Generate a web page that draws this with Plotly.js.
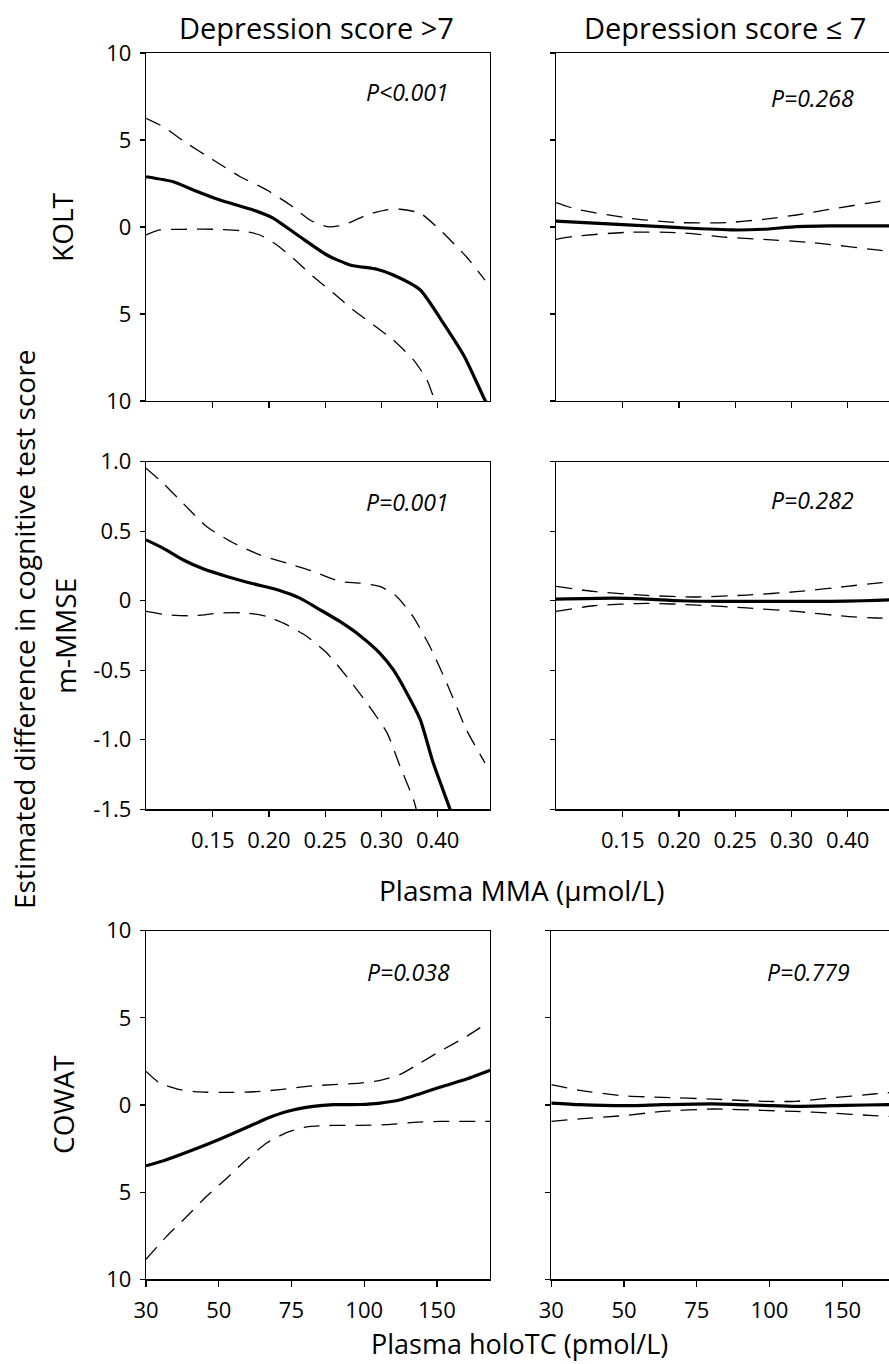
<!DOCTYPE html>
<html>
<head>
<meta charset="utf-8">
<script src="https://cdn.plot.ly/plotly-3.0.1.min.js"></script>
<style>
html,body{margin:0;padding:0;background:#fff;overflow:hidden;width:889px;height:1364px;}
#chart{width:900px;height:1364px;}
</style>
</head>
<body>
<div id="chart"></div>
<script>
// ---- tick labels (equally spaced scale positions) ----
const mmaTickVals = [1, 2, 3, 4, 5];
const mmaTickText = ['0.15', '0.20', '0.25', '0.30', '0.40'];
const holoTickVals = [0, 1, 2, 3, 4];
const holoTickText = ['30', '50', '75', '100', '150'];
const scoreTickVals = [10, 5, 0, -5, -10];
const scoreTickText = ['10', '5', '0', '5', '10'];
const mmseTickVals = [1.0, 0.5, 0, -0.5, -1.0, -1.5];
const mmseTickText = ['1.0', '0.5', '0', '-0.5', '-1.0', '-1.5'];

const colTitles = ['Depression score >7', 'Depression score \u2264 7'];
const rowTitles = ['KOLT', 'm-MMSE', 'COWAT'];
const pValues = ['P&lt;0.001', 'P=0.268', 'P=0.001', 'P=0.282', 'P=0.038', 'P=0.779'];

// ---- KOLT, depression > 7 (x in MMA scale positions) ----
const koltHiX = [-0.186, 0.30, 0.655, 1.13, 1.72, 2.08, 2.55, 3.03, 3.44, 3.92, 4.21, 4.69, 5.10, 5.49, 5.84, 5.95];
const koltHiEst = [2.89, 2.60, 2.13, 1.55, 0.98, 0.50, -0.56, -1.61, -2.18, -2.43, -2.76, -3.62, -5.53, -7.54, -9.94, -10.5];
const koltHiUpX = [-0.186, 0.12, 0.54, 1.01, 1.49, 1.96, 2.38, 2.73, 3.03, 3.32, 3.74, 4.09, 4.33, 4.69, 5.04, 5.51, 5.84];
const koltHiUp = [6.25, 5.76, 4.81, 3.85, 2.89, 2.13, 1.26, 0.40, 0.02, 0.11, 0.69, 0.98, 1.02, 0.79, -0.17, -1.71, -3.05];
const koltHiLoX = [-0.186, 0.06, 0.54, 1.01, 1.49, 1.84, 2.14, 2.43, 2.79, 3.15, 3.50, 3.86, 4.21, 4.57, 4.81, 4.95, 5.0];
const koltHiLo = [-0.46, -0.17, -0.13, -0.13, -0.21, -0.46, -1.03, -1.80, -2.86, -3.81, -4.77, -5.63, -6.49, -7.64, -8.79, -10.0, -10.4];

// ---- KOLT, depression <= 7 ----
const koltLoX = [-0.186, 0.83, 2.02, 2.97, 3.50, 4.09, 4.68, 5.73, 5.95];
const koltLoEst = [0.34, 0.17, -0.04, -0.17, -0.13, 0.02, 0.06, 0.06, 0.06];
const koltLoCIX = [-0.186, 0.18, 1.13, 2.02, 2.85, 3.50, 4.09, 4.69, 5.52, 5.95];
const koltLoUp = [1.40, 1.02, 0.50, 0.25, 0.25, 0.44, 0.69, 1.02, 1.45, 1.65];
const koltLoLoX = [-0.186, 0.18, 1.13, 2.02, 2.85, 3.50, 4.39, 5.52, 5.95];
const koltLoLo = [-0.71, -0.52, -0.30, -0.33, -0.59, -0.71, -0.90, -1.32, -1.45];

// ---- m-MMSE, depression > 7 ----
const mmseHiX = [-0.186, 0.115, 0.47, 0.83, 1.25, 1.72, 2.19, 2.55, 2.91, 3.26, 3.62, 3.97, 4.21, 4.45, 4.69, 4.92, 5.22, 5.26];
const mmseHiEst = [0.438, 0.379, 0.295, 0.230, 0.175, 0.122, 0.074, 0.019, -0.065, -0.149, -0.251, -0.376, -0.496, -0.663, -0.855, -1.166, -1.50, -1.55];
const mmseHiUpX = [-0.186, 0.115, 0.47, 0.89, 1.37, 1.84, 2.31, 2.79, 3.26, 3.62, 3.97, 4.27, 4.56, 4.86, 5.16, 5.51, 5.84];
const mmseHiUp = [0.953, 0.846, 0.702, 0.534, 0.415, 0.330, 0.271, 0.211, 0.139, 0.127, 0.103, 0.031, -0.113, -0.328, -0.591, -0.927, -1.166];
const mmseHiLoX = [-0.186, 0.18, 0.655, 1.13, 1.60, 1.96, 2.31, 2.67, 3.03, 3.38, 3.74, 4.10, 4.33, 4.57, 4.65];
const mmseHiLo = [-0.077, -0.101, -0.108, -0.088, -0.088, -0.113, -0.172, -0.256, -0.376, -0.544, -0.735, -0.950, -1.190, -1.430, -1.55];

// ---- m-MMSE, depression <= 7 ----
const mmseLoX = [-0.186, 0.83, 1.43, 2.02, 2.91, 3.80, 4.69, 5.28, 5.74, 5.95];
const mmseLoEst = [0.012, 0.019, 0.012, 0.0, -0.005, -0.005, -0.005, 0.0, 0.007, 0.01];
const mmseLoCIX = [-0.186, 0.48, 1.43, 2.32, 3.20, 4.09, 4.98, 5.52, 5.95];
const mmseLoUp = [0.103, 0.067, 0.038, 0.027, 0.041, 0.065, 0.103, 0.127, 0.14];
const mmseLoLo = [-0.077, -0.036, -0.019, -0.031, -0.052, -0.077, -0.113, -0.124, -0.13];

// ---- COWAT, depression > 7 (x in holoTC scale positions) ----
const cowatHiX = [0, 0.28, 0.65, 1.02, 1.39, 1.66, 1.94, 2.30, 2.58, 2.94, 3.22, 3.50, 3.77, 4.05, 4.41, 4.73];
const cowatHiEst = [-3.49, -3.14, -2.57, -1.95, -1.28, -0.77, -0.37, -0.08, 0.02, 0.03, 0.11, 0.30, 0.65, 1.03, 1.49, 1.99];
const cowatHiUpX = [0, 0.19, 0.47, 0.74, 1.11, 1.48, 1.84, 2.21, 2.57, 2.94, 3.22, 3.49, 3.77, 4.04, 4.41, 4.71];
const cowatHiUp = [1.93, 1.26, 0.88, 0.75, 0.72, 0.76, 0.88, 1.07, 1.17, 1.26, 1.41, 1.74, 2.41, 3.08, 3.94, 4.75];
const cowatHiLoX = [0, 0.28, 0.56, 0.83, 1.11, 1.38, 1.66, 1.94, 2.21, 2.57, 2.94, 3.31, 3.68, 4.05, 4.73];
const cowatHiLo = [-8.85, -7.55, -6.40, -5.25, -4.20, -3.14, -2.18, -1.57, -1.26, -1.17, -1.17, -1.13, -1.00, -0.94, -0.94];

// ---- COWAT, depression <= 7 ----
const cowatLoX = [0, 0.39, 0.99, 1.53, 2.22, 2.91, 3.36, 4.05, 4.64, 4.75];
const cowatLoEst = [0.11, 0.02, -0.04, 0.02, 0.07, -0.02, -0.08, -0.02, 0.02, 0.02];
const cowatLoCIX = [0, 0.39, 0.99, 1.53, 2.22, 2.91, 3.36, 3.83, 4.43, 4.75];
const cowatLoUp = [1.17, 0.84, 0.53, 0.44, 0.34, 0.21, 0.21, 0.40, 0.63, 0.75];
const cowatLoLo = [-0.94, -0.80, -0.61, -0.37, -0.23, -0.31, -0.37, -0.46, -0.61, -0.68];

// ---------------- figure ----------------
const W = 900, H = 1364;
const fx = p => p / W;
const fy = p => 1 - p / H;
const FONT = 'Open Sans, Noto Sans, sans-serif';

const solid = {color: '#000', width: 3.2, shape: 'spline', smoothing: 0.6};
const dashed = {color: '#000', width: 1.3, dash: '16px,10px', shape: 'spline', smoothing: 0.6};

function tr(x, y, ax, line) {
  return {x: x, y: y, xaxis: 'x' + ax, yaxis: 'y' + ax, mode: 'lines', line: line, hoverinfo: 'skip', showlegend: false};
}

const data = [
  tr(koltHiX, koltHiEst, '', solid), tr(koltHiUpX, koltHiUp, '', dashed), tr(koltHiLoX, koltHiLo, '', dashed),
  tr(koltLoX, koltLoEst, '2', solid), tr(koltLoCIX, koltLoUp, '2', dashed), tr(koltLoLoX, koltLoLo, '2', dashed),
  tr(mmseHiX, mmseHiEst, '3', solid), tr(mmseHiUpX, mmseHiUp, '3', dashed), tr(mmseHiLoX, mmseHiLo, '3', dashed),
  tr(mmseLoX, mmseLoEst, '4', solid), tr(mmseLoCIX, mmseLoUp, '4', dashed), tr(mmseLoCIX, mmseLoLo, '4', dashed),
  tr(cowatHiX, cowatHiEst, '5', solid), tr(cowatHiUpX, cowatHiUp, '5', dashed), tr(cowatHiLoX, cowatHiLo, '5', dashed),
  tr(cowatLoX, cowatLoEst, '6', solid), tr(cowatLoCIX, cowatLoUp, '6', dashed), tr(cowatLoCIX, cowatLoLo, '6', dashed)
];

const tickFont = {family: FONT, size: 22, color: '#000'};
function xax(domain, anchor, range, vals, text, labels) {
  return {domain: domain, anchor: anchor, range: range, tickmode: 'array', tickvals: vals, ticktext: text,
    showticklabels: labels, ticks: 'outside', ticklen: 6, tickwidth: 1.2, tickcolor: '#000',
    showline: true, mirror: true, linecolor: '#000', linewidth: 1.2, showgrid: false, zeroline: false,
    tickfont: tickFont, ticklabelstandoff: 5, fixedrange: true};
}
function yax(domain, anchor, range, vals, text, labels) {
  return {domain: domain, anchor: anchor, range: range, tickmode: 'array', tickvals: vals, ticktext: text,
    showticklabels: labels, ticks: 'outside', ticklen: 5, tickwidth: 1.2, tickcolor: '#000',
    showline: true, mirror: true, linecolor: '#000', linewidth: 1.2, showgrid: false, zeroline: false,
    tickfont: tickFont, ticklabelstandoff: 4, fixedrange: true};
}

const L = [fx(146), fx(490)];
const R = [fx(556), fx(900)];
const R3 = [fx(551.3), fx(895.3)];
const row1 = [fy(401), fy(53)];
const row2 = [fy(809.3), fy(461.7)];
const row3 = [fy(1279.3), fy(930.7)];
const mmaRange = [-0.186, 5.93];
const holoRange = [0, 4.73];

function ann(text, x, y, size, extra) {
  return Object.assign({text: text, x: fx(x), y: fy(y), xref: 'paper', yref: 'paper', showarrow: false,
    xanchor: 'center', yanchor: 'middle', font: {family: FONT, size: size, color: '#000'}}, extra || {});
}

const annotations = [
  ann(colTitles[0], 316.5, 28, 29),
  ann(colTitles[1], 725, 28, 29),
  ann('Estimated difference in cognitive test score', 24, 630, 28, {textangle: -90}),
  ann(rowTitles[0], 62, 227, 28, {textangle: -90}),
  ann(rowTitles[1], 65, 636, 28, {textangle: -90}),
  ann(rowTitles[2], 63, 1105, 28, {textangle: -90}),
  ann('Plasma MMA (\u03bcmol/L)', 521, 890, 28),
  ann('Plasma holoTC (pmol/L)', 519, 1364, 27, {yanchor: 'bottom'}),
  ann('<i>' + pValues[0] + '</i>', 407, 92, 23),
  ann('<i>' + pValues[1] + '</i>', 812, 98, 23),
  ann('<i>' + pValues[2] + '</i>', 407, 502, 23),
  ann('<i>' + pValues[3] + '</i>', 812, 500, 23),
  ann('<i>' + pValues[4] + '</i>', 408, 972, 23),
  ann('<i>' + pValues[5] + '</i>', 808, 972, 23)
];

const layout = {
  width: W, height: H,
  margin: {l: 0, r: 0, t: 0, b: 0},
  paper_bgcolor: '#fff', plot_bgcolor: '#fff',
  showlegend: false,
  font: {family: FONT, color: '#000'},
  xaxis: xax(L, 'y', mmaRange, mmaTickVals, mmaTickText, false),
  yaxis: yax(row1, 'x', [-10, 10], scoreTickVals, scoreTickText, true),
  xaxis2: xax(R, 'y2', mmaRange, mmaTickVals, mmaTickText, false),
  yaxis2: yax(row1, 'x2', [-10, 10], scoreTickVals, scoreTickText, false),
  xaxis3: xax(L, 'y3', mmaRange, mmaTickVals, mmaTickText, true),
  yaxis3: yax(row2, 'x3', [-1.5, 1.0], mmseTickVals, mmseTickText, true),
  xaxis4: xax(R, 'y4', mmaRange, mmaTickVals, mmaTickText, true),
  yaxis4: yax(row2, 'x4', [-1.5, 1.0], mmseTickVals, mmseTickText, false),
  xaxis5: xax(L, 'y5', holoRange, holoTickVals, holoTickText, true),
  yaxis5: yax(row3, 'x5', [-10, 10], scoreTickVals, scoreTickText, true),
  xaxis6: xax(R3, 'y6', holoRange, holoTickVals, holoTickText, true),
  yaxis6: yax(row3, 'x6', [-10, 10], scoreTickVals, scoreTickText, false),
  annotations: annotations
};

Plotly.newPlot('chart', data, layout, {staticPlot: true, displayModeBar: false});
</script>
</body>
</html>
